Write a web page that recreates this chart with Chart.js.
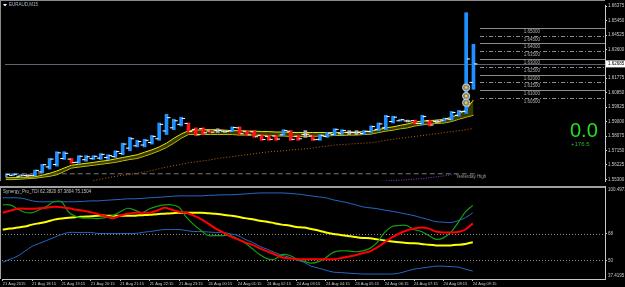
<!DOCTYPE html>
<html>
<head>
<meta charset="utf-8">
<script src="https://cdn.jsdelivr.net/npm/chart.js@4.4.1/dist/chart.umd.min.js"></script>
<style>
  html, body { margin: 0; padding: 0; background: #000; }
  #wrap { position: relative; width: 625px; height: 287px; background: #000; overflow: hidden; }
  #priceChart { position: absolute; left: 0; top: 0; }
  #tdiChart { position: absolute; left: 0; top: 186px; }
</style>
</head>
<body>
<div id="wrap">
  <canvas id="priceChart" width="625" height="186"></canvas>
  <canvas id="tdiChart" width="625" height="101"></canvas>
</div>
<script>
// EURAUD M15 + Synergy TDI

// --- data ---
const chartTitle = 'EURAUD,M15';
const tdiHeader = 'Synergy_Pro_TDI 62.3820 87.3804 75.1504';
const timeLabels = ['21 Aug 2015', '21 Aug 18:15', '21 Aug 19:15', '21 Aug 20:15', '21 Aug 21:15',
  '21 Aug 22:15', '21 Aug 23:15', '24 Aug 00:15', '24 Aug 01:15', '24 Aug 02:15', '24 Aug 03:15',
  '24 Aug 04:15', '24 Aug 05:15', '24 Aug 06:15', '24 Aug 07:15', '24 Aug 08:15', '24 Aug 09:15'];
const labelStep = 4; // one label every 4 bars (1 hour)

const opens = [1.5550, 1.5556, 1.5550, 1.5555, 1.5556, 1.5578, 1.5610, 1.5625, 1.5664, 1.5660,
  1.5640, 1.5656, 1.5663, 1.5666, 1.5670, 1.5676, 1.5696, 1.5730, 1.5745, 1.5750,
  1.5766, 1.5790, 1.5840, 1.5860, 1.5882, 1.5888, 1.5850, 1.5855, 1.5840, 1.5842,
  1.5838, 1.5840, 1.5860, 1.5838, 1.5835, 1.5812, 1.5805, 1.5808, 1.5815, 1.5838,
  1.5806, 1.5818, 1.5808, 1.5786, 1.5805, 1.5818, 1.5822, 1.5830, 1.5829, 1.5824,
  1.5836, 1.5850, 1.5860, 1.5900, 1.5905, 1.5904, 1.5906, 1.5888, 1.5905, 1.5900,
  1.5905, 1.5915, 1.5940, 1.5965, 1.6150];
const highs = [1.5566, 1.5566, 1.5560, 1.5560, 1.5590, 1.5627, 1.5664, 1.5707, 1.5707, 1.5664,
  1.5682, 1.5682, 1.5682, 1.5695, 1.5688, 1.5713, 1.5762, 1.5799, 1.5780, 1.5787,
  1.5811, 1.5891, 1.5946, 1.5915, 1.5928, 1.5891, 1.5860, 1.5860, 1.5842, 1.5854,
  1.5842, 1.5866, 1.5866, 1.5842, 1.5842, 1.5817, 1.5811, 1.5811, 1.5848, 1.5842,
  1.5811, 1.5842, 1.5811, 1.5817, 1.5830, 1.5854, 1.5848, 1.5842, 1.5842, 1.5842,
  1.5872, 1.5891, 1.5940, 1.5934, 1.5915, 1.5909, 1.5909, 1.5940, 1.5909, 1.5909,
  1.5922, 1.5965, 1.5971, 1.6596, 1.6394];
const lows = [1.5547, 1.5553, 1.5547, 1.5548, 1.5553, 1.5572, 1.5596, 1.5615, 1.5658, 1.5633,
  1.5633, 1.5646, 1.5658, 1.5658, 1.5658, 1.5670, 1.5688, 1.5713, 1.5738, 1.5738,
  1.5756, 1.5780, 1.5817, 1.5848, 1.5872, 1.5830, 1.5811, 1.5817, 1.5830, 1.5830,
  1.5830, 1.5836, 1.5817, 1.5811, 1.5799, 1.5780, 1.5780, 1.5780, 1.5811, 1.5780,
  1.5780, 1.5799, 1.5780, 1.5780, 1.5799, 1.5811, 1.5817, 1.5817, 1.5817, 1.5817,
  1.5830, 1.5842, 1.5848, 1.5891, 1.5903, 1.5897, 1.5885, 1.5879, 1.5872, 1.5891,
  1.5903, 1.5909, 1.5934, 1.5952, 1.6106];
const closes = [1.5562, 1.5563, 1.5557, 1.5556, 1.5588, 1.5624, 1.5660, 1.5700, 1.5697, 1.5638,
  1.5678, 1.5675, 1.5678, 1.5690, 1.5682, 1.5708, 1.5756, 1.5790, 1.5772, 1.5780,
  1.5805, 1.5882, 1.5925, 1.5905, 1.5920, 1.5836, 1.5815, 1.5828, 1.5832, 1.5843,
  1.5837, 1.5862, 1.5822, 1.5815, 1.5803, 1.5785, 1.5786, 1.5788, 1.5843, 1.5786,
  1.5790, 1.5819, 1.5784, 1.5812, 1.5826, 1.5850, 1.5843, 1.5831, 1.5830, 1.5838,
  1.5868, 1.5885, 1.5932, 1.5928, 1.5912, 1.5903, 1.5888, 1.5932, 1.5878, 1.5899,
  1.5918, 1.5958, 1.5965, 1.6300, 1.62685];

const maUpper = [1.5541, 1.5541, 1.5544, 1.5544, 1.5547, 1.5557, 1.5569, 1.5584, 1.5603, 1.5621,
  1.5627, 1.5633, 1.5639, 1.5646, 1.5652, 1.5661, 1.5670, 1.5679, 1.5688, 1.5704,
  1.5719, 1.5738, 1.5762, 1.5793, 1.5820, 1.5842, 1.5845, 1.5848, 1.5848, 1.5848,
  1.5845, 1.5842, 1.5842, 1.5839, 1.5839, 1.5836, 1.5836, 1.5833, 1.5833, 1.5830,
  1.5830, 1.5830, 1.5830, 1.5830, 1.5830, 1.5830, 1.5830, 1.5833, 1.5833, 1.5836,
  1.5839, 1.5848, 1.5860, 1.5866, 1.5876, 1.5885, 1.5897, 1.5903, 1.5906, 1.5909,
  1.5915, 1.5928, 1.5946, 1.5977, 1.6038];
const maLower = [1.5529, 1.5529, 1.5532, 1.5535, 1.5538, 1.5544, 1.5550, 1.5560, 1.5581, 1.5603,
  1.5609, 1.5615, 1.5621, 1.5627, 1.5633, 1.5639, 1.5649, 1.5658, 1.5664, 1.5679,
  1.5695, 1.5713, 1.5734, 1.5762, 1.5793, 1.5817, 1.5817, 1.5817, 1.5817, 1.5817,
  1.5817, 1.5817, 1.5814, 1.5814, 1.5814, 1.5811, 1.5811, 1.5808, 1.5808, 1.5805,
  1.5805, 1.5805, 1.5805, 1.5808, 1.5808, 1.5811, 1.5811, 1.5814, 1.5814, 1.5817,
  1.5820, 1.5830, 1.5839, 1.5845, 1.5854, 1.5860, 1.5872, 1.5879, 1.5885, 1.5888,
  1.5891, 1.5900, 1.5915, 1.5928, 1.5940];
const slowMa = [null, null, null, null, null, null, null, null, null, null, null, null,
  1.5523, 1.5532, 1.5541, 1.5550, 1.5557, 1.5563, 1.5569, 1.5578, 1.5587, 1.5599,
  1.5609, 1.5618, 1.5627, 1.5636, 1.5642, 1.5649, 1.5655, 1.5664, 1.5670, 1.5676,
  1.5682, 1.5688, 1.5695, 1.5701, 1.5707, 1.5710, 1.5713, 1.5719, 1.5722, 1.5725,
  1.5731, 1.5738, 1.5744, 1.5750, 1.5753, 1.5756, 1.5759, 1.5762, 1.5765, 1.5771,
  1.5781, 1.5787, 1.5793, 1.5799, 1.5805, 1.5811, 1.5817, 1.5823, 1.5830, 1.5836,
  1.5842, 1.5848, 1.5857];
const trailStart = 51;
const trailLine = [1.5517, 1.5520, 1.5523, 1.5526, 1.5529, 1.5532, 1.5535, 1.5541, 1.5547, 1.5553, 1.5560];
const yesterdayHigh = 1.5566;
const currentPrice = 1.62685;
const pivotLevels = [1.650, 1.645, 1.640, 1.635, 1.630, 1.625, 1.620, 1.615, 1.610, 1.605];
const pivotDotsAt = 63;
const pivotDots = [1.6118, 1.6063, 1.6020];
const priceTicks = [1.66375, 1.65450, 1.64525, 1.63600, 1.61775, 1.60850, 1.59925, 1.59000,
  1.58075, 1.57150, 1.56225, 1.55300];
const profitText = '0.0';
const pipsText = '+176.5';

const tdiUpper = [92.5, 92.5, 92.5, 91.8, 90.4, 89.8, 89.8, 89.8, 89.8, 89.8,
  89.8, 90.1, 90.4, 90.4, 90.8, 91.1, 91.4, 91.8, 91.8, 92.1,
  92.5, 92.8, 93.1, 93.5, 93.8, 93.8, 93.8, 93.8, 94.1, 94.3,
  94.5, 94.5, 94.8, 95.1, 95.5, 95.8, 95.8, 95.8, 95.8, 95.5,
  95.1, 94.5, 93.8, 93.1, 92.5, 91.1, 90.1, 89.1, 87.8, 86.4,
  85.7, 85.1, 84.1, 83.4, 82.4, 81.4, 80.4, 79.0, 77.7, 76.3,
  76.0, 75.7, 77.0, 79.0, 82.4];
const tdiLower = [48.8, 50.8, 52.9, 56.2, 59.6, 61.6, 63.6, 65.6, 67.6, 69.0,
  69.0, 69.0, 69.0, 68.3, 68.3, 68.3, 68.3, 68.3, 68.3, 69.0,
  69.6, 70.3, 71.0, 71.0, 71.0, 70.3, 69.6, 69.6, 69.3, 69.0,
  69.0, 68.0, 67.0, 64.3, 62.3, 59.6, 57.6, 55.5, 53.5, 52.2,
  50.2, 48.8, 46.1, 44.8, 43.4, 42.1, 41.8, 41.4, 41.1, 40.8,
  40.8, 40.8, 40.8, 40.8, 41.4, 42.8, 44.1, 44.8, 45.5, 46.1,
  46.1, 45.8, 45.5, 44.1, 42.8];
const tdiBase = [71.0, 71.6, 72.3, 73.0, 74.3, 75.3, 76.3, 77.7, 78.4, 79.0,
  79.4, 79.7, 80.0, 80.4, 80.4, 80.4, 80.4, 80.4, 80.4, 80.7,
  81.0, 81.4, 81.7, 82.0, 82.4, 82.4, 82.4, 82.4, 82.0, 81.7,
  81.0, 80.4, 79.7, 78.7, 78.0, 77.0, 76.3, 75.3, 74.3, 73.7,
  72.7, 72.3, 71.3, 70.3, 69.0, 68.0, 67.3, 66.6, 65.9, 65.3,
  65.0, 64.3, 63.6, 62.9, 62.3, 61.9, 61.6, 61.2, 60.6, 60.2,
  60.2, 60.2, 60.6, 61.2, 62.38];
const tdiSignal = [82.4, 83.7, 85.1, 85.1, 85.1, 85.4, 85.7, 86.4, 86.1, 85.4,
  84.4, 83.7, 82.7, 81.4, 80.0, 78.7, 80.4, 81.7, 82.4, 82.4,
  82.4, 83.7, 85.7, 84.4, 83.0, 82.4, 80.4, 78.0, 75.0, 71.6,
  69.0, 66.3, 64.3, 62.3, 60.6, 58.2, 56.2, 54.2, 52.2, 51.5,
  50.8, 50.8, 50.8, 50.8, 50.8, 50.8, 51.5, 52.5, 53.5, 54.9,
  56.2, 58.9, 62.3, 65.6, 68.3, 70.3, 71.6, 72.3, 71.6, 69.6,
  69.0, 69.0, 69.3, 71.0, 75.15];
const tdiPrice = [87.7, 87.7, 85.1, 82.7, 82.4, 84.4, 86.7, 89.8, 89.8, 82.7,
  79.7, 78.7, 78.7, 78.4, 79.0, 80.4, 83.0, 85.4, 84.1, 82.4,
  85.1, 86.7, 87.7, 87.7, 86.1, 79.4, 74.3, 70.3, 66.9, 66.9,
  66.9, 66.9, 64.6, 61.9, 57.9, 53.9, 51.2, 50.8, 53.9, 53.5,
  51.2, 49.5, 48.2, 49.2, 51.9, 55.5, 56.5, 56.5, 55.9, 56.5,
  58.2, 62.3, 69.0, 73.0, 73.7, 73.7, 71.0, 69.6, 66.9, 64.3,
  65.3, 69.0, 75.7, 83.0, 87.38];
const tdiLevels = [68, 50];
const tdiMin = 37.4195;
const tdiMax = 100.4971;

// --- look ---
const FONT = "'Liberation Sans', Arial, sans-serif";
const AXIS = '#c8c8c8';
Chart.defaults.font.family = FONT;
Chart.defaults.font.size = 4.5;
Chart.defaults.color = AXIS;

const xMin = -0.1, xMax = 82;
const priceMin = 1.5520, priceMax = 1.6645;

const candleIdx = closes.map((_, i) => i);
const candleColors = candleIdx.map(i => {
  const d = closes[i] - opens[i];
  if (Math.abs(d) <= 0.0002) return '#b0b0b0';
  return d > 0 ? '#1e90ff' : '#ff1414';
});
const toPoints = (arr, start = 0) => arr.map((v, i) => ({ x: i + start, y: v }));

const rightAxis = (min, max, ticks, fmt) => ({
  position: 'right',
  min: min,
  max: max,
  afterBuildTicks: s => { s.ticks = ticks.map(v => ({ value: v })); },
  afterFit: s => { s.width = 20; s.paddingTop = 0; s.paddingBottom = 0; },
  ticks: { padding: 1, color: AXIS, font: { size: 4.5 }, callback: fmt },
  grid: { drawOnChartArea: false, tickLength: 2, color: AXIS },
  border: { color: AXIS }
});

// price panel extras: price line, pivot levels, texts
const priceDecor = {
  id: 'priceDecor',
  beforeDatasetsDraw(chart) {
    const { ctx, chartArea: a, scales: { x, y } } = chart;
    ctx.save();
    const yc = Math.round(y.getPixelForValue(currentPrice)) + 0.5;
    ctx.strokeStyle = '#5c6670';
    ctx.lineWidth = 1;
    ctx.beginPath(); ctx.moveTo(a.left, yc); ctx.lineTo(a.right, yc); ctx.stroke();

    const x0 = x.getPixelForValue(closes.length - 0.1);
    const xt = x.getPixelForValue(72);
    ctx.font = `4.5px ${FONT}`;
    ctx.textAlign = 'center';
    ctx.textBaseline = 'top';
    pivotLevels.forEach((lv, k) => {
      const py = Math.round(y.getPixelForValue(lv)) + 0.5;
      ctx.strokeStyle = '#8c8c8c';
      ctx.setLineDash(k % 2 ? [4, 2, 1, 2] : []);
      ctx.beginPath(); ctx.moveTo(x0, py); ctx.lineTo(a.right, py); ctx.stroke();
      ctx.setLineDash([]);
      ctx.fillStyle = '#b4b4b4';
      ctx.fillText(lv.toFixed(5), xt, py + 1);
    });
    ctx.restore();
  },
  afterDraw(chart) {
    const { ctx, chartArea: a, scales: { x, y } } = chart;
    ctx.save();
    ctx.fillStyle = '#8a8a8a';
    ctx.fillRect(0, 0, a.right, 1);
    ctx.fillRect(0, 0, 1, a.bottom);

    // title
    ctx.fillStyle = '#ffffff';
    ctx.beginPath(); ctx.moveTo(3, 4); ctx.lineTo(7, 4); ctx.lineTo(5, 6.5); ctx.closePath(); ctx.fill();
    ctx.fillStyle = '#a8b8d0';
    ctx.font = `4.5px ${FONT}`;
    ctx.textAlign = 'left';
    ctx.textBaseline = 'middle';
    ctx.fillText(chartTitle, 9, 5);

    // current price tag
    const yc = y.getPixelForValue(currentPrice);
    ctx.fillStyle = '#ffffff';
    ctx.fillRect(a.right + 1, yc - 3.5, 19, 7);
    ctx.fillStyle = '#000000';
    ctx.fillText(currentPrice.toFixed(5), a.right + 3, yc);

    // yesterday high label
    ctx.fillStyle = '#9a9a9a';
    ctx.textBaseline = 'top';
    ctx.fillText('Yesterday High', x.getPixelForValue(61.6), y.getPixelForValue(yesterdayHigh) + 1);

    // profit counters
    ctx.textBaseline = 'alphabetic';
    ctx.fillStyle = '#22e022';
    ctx.font = "20px 'Liberation Sans', Arial, sans-serif";
    ctx.fillText(profitText, 570, 137);
    ctx.fillStyle = '#2cb52c';
    ctx.font = `6px ${FONT}`;
    ctx.fillText(pipsText, 571, 146);
    ctx.restore();
  }
};

new Chart(document.getElementById('priceChart'), {
  type: 'bar',
  data: {
    datasets: [
      {
        type: 'scatter', label: 'open', order: 0,
        data: candleIdx.map(i => ({ x: i - 0.32, y: opens[i] })),
        pointStyle: 'line', pointRadius: 1.6, borderColor: '#ffffff', borderWidth: 1
      },
      {
        type: 'scatter', label: 'close', order: 0,
        data: candleIdx.map(i => ({ x: i + 0.32, y: closes[i] })),
        pointStyle: 'line', pointRadius: 1.6, borderColor: '#ffffff', borderWidth: 1
      },
      {
        type: 'scatter', label: 'pivot dots', order: 0,
        data: pivotDots.map(v => ({ x: pivotDotsAt, y: v })),
        pointStyle: 'circle', pointRadius: 1.3, backgroundColor: '#ffd400', borderWidth: 0
      },
      {
        type: 'scatter', label: 'pivot rings', order: 1,
        data: pivotDots.map(v => ({ x: pivotDotsAt, y: v })),
        pointStyle: 'circle', pointRadius: 3.6, backgroundColor: 'rgba(140,140,140,0.9)',
        borderColor: '#cfcfcf', borderWidth: 1
      },
      {
        type: 'bar', label: 'range', order: 2,
        data: candleIdx.map(i => ({ x: i, y: [lows[i], highs[i]] })),
        backgroundColor: candleColors, barThickness: 3, grouped: false, minBarLength: 1
      },
      {
        type: 'line', label: 'ma upper', order: 4,
        data: toPoints(maUpper), borderColor: '#e6e600', borderWidth: 1, pointRadius: 0,
        fill: '+1', backgroundColor: 'rgba(96,96,0,0.6)'
      },
      {
        type: 'line', label: 'ma lower', order: 4,
        data: toPoints(maLower), borderColor: '#e6e600', borderWidth: 1, pointRadius: 0, fill: false
      },
      {
        type: 'line', label: 'slow ma', order: 5,
        data: toPoints(slowMa), borderColor: '#c86400', borderWidth: 1, borderDash: [1, 2],
        pointRadius: 0, fill: false
      },
      {
        type: 'line', label: 'yesterday high', order: 6,
        data: [{ x: 0, y: yesterdayHigh }, { x: closes.length - 0.4, y: yesterdayHigh }],
        borderColor: '#7a7a7a', borderWidth: 1, borderDash: [5, 3], pointRadius: 0, fill: false
      },
      {
        type: 'line', label: 'trail', order: 6,
        data: toPoints(trailLine, trailStart), borderColor: '#8a3ad8', borderWidth: 1,
        borderDash: [1, 1.5], pointRadius: 0, fill: false
      }
    ]
  },
  options: {
    responsive: false,
    animation: false,
    events: [],
    layout: { padding: { left: 2, top: 2, right: 0, bottom: 0 } },
    plugins: { legend: { display: false }, tooltip: { enabled: false } },
    scales: {
      x: { type: 'linear', min: xMin, max: xMax, offset: false, display: false },
      y: rightAxis(priceMin, priceMax, priceTicks, v => Number(v).toFixed(5))
    }
  },
  plugins: [priceDecor]
});

// TDI panel extras
const tdiDecor = {
  id: 'tdiDecor',
  beforeDatasetsDraw(chart) {
    const { ctx, chartArea: a, scales: { y } } = chart;
    ctx.save();
    ctx.strokeStyle = '#8c8c8c';
    ctx.lineWidth = 1;
    ctx.setLineDash([1, 2]);
    tdiLevels.forEach(v => {
      const py = Math.round(y.getPixelForValue(v)) + 0.5;
      ctx.beginPath(); ctx.moveTo(a.left, py); ctx.lineTo(a.right, py); ctx.stroke();
    });
    ctx.restore();
  },
  afterDraw(chart) {
    const { ctx, chartArea: a } = chart;
    ctx.save();
    ctx.fillStyle = '#a0a0a0';
    ctx.fillRect(0, 0, a.right, 2);
    ctx.fillRect(0, 0, 1, a.bottom);
    ctx.font = `4.5px ${FONT}`;
    ctx.fillStyle = '#c0c0c0';
    ctx.textAlign = 'left';
    ctx.textBaseline = 'middle';
    ctx.fillText(tdiHeader, 3, 6);
    ctx.fillStyle = AXIS;
    ctx.textBaseline = 'top';
    ctx.fillText(tdiMax.toFixed(4), a.right + 3, 2);
    ctx.textBaseline = 'bottom';
    ctx.fillText(tdiMin.toFixed(4), a.right + 3, a.bottom - 1);
    ctx.restore();
  }
};

new Chart(document.getElementById('tdiChart'), {
  type: 'line',
  data: {
    datasets: [
      { label: 'upper band', data: toPoints(tdiUpper), borderColor: '#2468c8', borderWidth: 1, order: 4 },
      { label: 'lower band', data: toPoints(tdiLower), borderColor: '#2468c8', borderWidth: 1, order: 4 },
      { label: 'market base', data: toPoints(tdiBase), borderColor: '#ffff00', borderWidth: 2, order: 3 },
      { label: 'rsi price', data: toPoints(tdiPrice), borderColor: '#12a012', borderWidth: 1.2, order: 2 },
      { label: 'signal', data: toPoints(tdiSignal), borderColor: '#ff0000', borderWidth: 2, order: 1 }
    ]
  },
  options: {
    responsive: false,
    animation: false,
    events: [],
    elements: { point: { radius: 0 }, line: { tension: 0.35 } },
    layout: { padding: { left: 2, top: 0, right: 0, bottom: 0 } },
    plugins: { legend: { display: false }, tooltip: { enabled: false } },
    scales: {
      x: {
        type: 'linear', min: xMin, max: xMax, offset: false,
        afterBuildTicks: s => { s.ticks = timeLabels.map((_, k) => ({ value: k * labelStep })); },
        afterFit: s => { s.height = 8; s.paddingLeft = 0; s.paddingRight = 0; },
        ticks: {
          autoSkip: false, maxRotation: 0, minRotation: 0, align: 'start', padding: 0,
          color: AXIS, font: { size: 4 },
          callback: (v, k) => timeLabels[k]
        },
        grid: { drawOnChartArea: false, tickLength: 2, color: AXIS },
        border: { color: AXIS }
      },
      y: rightAxis(tdiMin, tdiMax, tdiLevels, v => String(v))
    }
  },
  plugins: [tdiDecor]
});
</script>
</body>
</html>
